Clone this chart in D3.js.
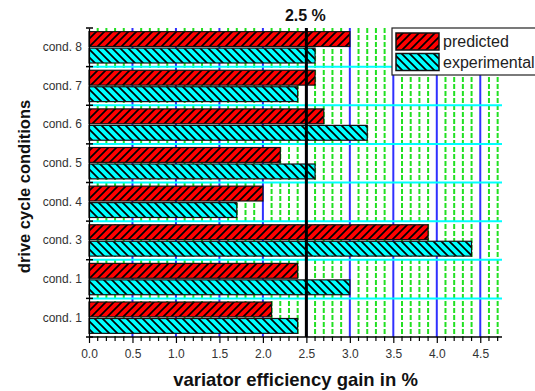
<!DOCTYPE html>
<html><head><meta charset="utf-8">
<script src="https://cdn.jsdelivr.net/npm/d3@7"></script>
<style>body{margin:0;background:#fff}svg{display:block;font-family:"Liberation Sans",Arial,sans-serif}</style>
</head><body><svg id="c" width="535" height="391"></svg>
<script>
const categories = ["cond. 8","cond. 7","cond. 6","cond. 5","cond. 4","cond. 3","cond. 1","cond. 1"];
const predicted    = [3.0, 2.6, 2.7, 2.2, 2.0, 3.9, 2.4, 2.1];
const experimental = [2.6, 2.4, 3.2, 2.6, 1.7, 4.4, 3.0, 2.4];
const seriesNames = ["predicted","experimental"];
const xTicks = [0,0.5,1,1.5,2,2.5,3,3.5,4,4.5];
const refValue = 2.5;

const svg = d3.select("#c");
const m = {l:89, r:502, t:28, b:337};
const x = d3.scaleLinear().domain([0,4.75]).range([m.l, m.r]);
const y = d3.scaleBand().domain(d3.range(categories.length)).range([m.t, m.b]).padding(0);
const ys = d3.scaleBand().domain(seriesNames).range([0, y.bandwidth()]).paddingInner(0.1).paddingOuter(0.22);

const defs = svg.append("defs");
function hatch(id, fill, dir){
  const p = defs.append("pattern").attr("id",id).attr("patternUnits","userSpaceOnUse")
    .attr("width",8).attr("height",8);
  p.append("rect").attr("width",8).attr("height",8).attr("fill",fill);
  const d = dir>0 ? "M-2,10 L10,-2 M-2,2 L2,-2 M6,10 L10,6" : "M-2,-2 L10,10 M-2,6 L2,10 M6,-2 L10,2";
  p.append("path").attr("d",d).attr("stroke","#000").attr("stroke-width",1.7);
}
hatch("hp","#ff0000",1);
hatch("he","#00ffff",-1);
const fills = {predicted:"url(#hp)", experimental:"url(#he)"};

// minor green grid
const minor = d3.range(1,48).map(i=>i/10).filter(v=>Math.abs(v*2-Math.round(v*2))>1e-6);
svg.append("g").selectAll("line").data(minor).join("line")
  .attr("x1",d=>x(d)).attr("x2",d=>x(d)).attr("y1",m.t).attr("y2",m.b)
  .attr("stroke","#22e022").attr("stroke-width",2).attr("stroke-dasharray","5,2");
// major blue grid
svg.append("g").selectAll("line").data(xTicks.filter(v=>v>0)).join("line")
  .attr("x1",d=>x(d)).attr("x2",d=>x(d)).attr("y1",m.t).attr("y2",m.b)
  .attr("stroke","#3030ff").attr("stroke-width",2);
// cyan horizontal grid at band boundaries
const bounds = d3.range(1,categories.length).map(i=>y(i));
svg.append("g").selectAll("line").data(bounds).join("line")
  .attr("x1",m.l).attr("x2",m.r).attr("y1",d=>d).attr("y2",d=>d)
  .attr("stroke","#00ffff").attr("stroke-width",2);

// bars
const g = svg.append("g");
categories.forEach((c,i)=>{
  [["predicted",predicted[i]],["experimental",experimental[i]]].forEach(([s,v])=>{
    g.append("rect").attr("x",x(0)).attr("y",y(i)+ys(s))
     .attr("width",x(v)-x(0)).attr("height",ys.bandwidth())
     .attr("fill",fills[s]).attr("stroke","#111").attr("stroke-width",1.2);
  });
});

// reference line
svg.append("line").attr("x1",x(refValue)).attr("x2",x(refValue)).attr("y1",m.t).attr("y2",m.b)
  .attr("stroke","#000").attr("stroke-width",3);
svg.append("text").attr("x",x(refValue)-1).attr("y",21).attr("text-anchor","middle")
  .attr("font-size",16).attr("font-weight","bold").attr("fill","#111").text(refValue+" %");

// x axis
const xa = svg.append("g").attr("transform",`translate(0,${m.b})`)
  .call(d3.axisBottom(x).tickValues(xTicks).tickFormat(d3.format(".1f")).tickSize(6).tickPadding(6));
xa.select(".domain").attr("stroke","#000").attr("stroke-width",1.5).attr("d",`M${m.l},0H${m.r}`);
xa.selectAll(".tick line").attr("stroke","#000").attr("stroke-width",1.2);
xa.selectAll("text").attr("font-size",12).attr("fill","#333").attr("font-family","Liberation Sans, Arial, sans-serif");
svg.append("g").attr("transform",`translate(0,${m.b})`).selectAll("line").data(minor).join("line")
  .attr("x1",d=>x(d)).attr("x2",d=>x(d)).attr("y1",0).attr("y2",4).attr("stroke","#000").attr("stroke-width",1.2);

// y axis
const ya = svg.append("g").attr("transform",`translate(${m.l},0)`)
  .call(d3.axisLeft(y).tickFormat(i=>categories[i]).tickSize(0).tickPadding(7));
ya.select(".domain").attr("stroke","#000").attr("stroke-width",1.2);
ya.selectAll("text").attr("font-size",12).attr("fill","#333").attr("font-family","Liberation Sans, Arial, sans-serif");
svg.append("g").selectAll("line").data(d3.range(0,categories.length+1).map(i=>i<categories.length?y(i):m.b)).join("line")
  .attr("x1",m.l-3).attr("x2",m.l+4).attr("y1",d=>d).attr("y2",d=>d).attr("stroke","#000").attr("stroke-width",1.5);

// axis titles
svg.append("text").attr("x",(m.l+m.r)/2).attr("y",386).attr("text-anchor","middle")
  .attr("font-size",18.5).attr("font-weight","bold").attr("fill","#111").text("variator efficiency gain in %");
svg.append("text").attr("transform",`translate(30,${(m.t+m.b)/2+4}) rotate(-90)`).attr("text-anchor","middle")
  .attr("font-size",16.5).attr("font-weight","bold").attr("fill","#111").text("drive cycle conditions");

// legend
const lg = svg.append("g").attr("transform","translate(392,28)");
lg.append("rect").attr("width",170).attr("height",47).attr("fill","#fff").attr("stroke","#222").attr("stroke-width",1.2);
seriesNames.forEach((s,i)=>{
  lg.append("rect").attr("x",4).attr("y",5+i*20.5).attr("width",43).attr("height",17)
    .attr("fill",fills[s]).attr("stroke","#111").attr("stroke-width",1.5);
  lg.append("text").attr("x",51).attr("y",19+i*20.5).attr("font-size",16).attr("fill","#222").text(s);
});
</script></body></html>
